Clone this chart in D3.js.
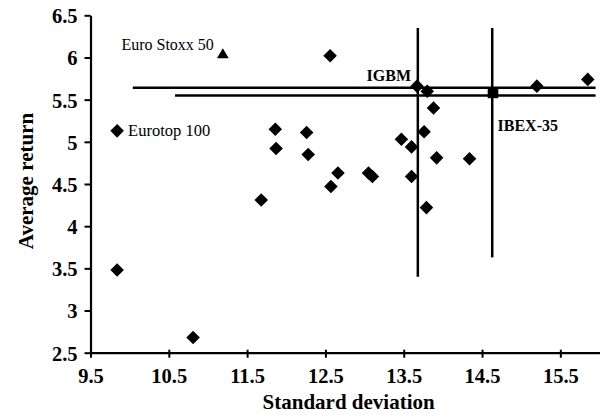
<!DOCTYPE html>
<html>
<head>
<meta charset="utf-8">
<script src="https://cdn.jsdelivr.net/npm/d3@7"></script>
<style>
  html, body { margin: 0; padding: 0; background: #fff; }
  svg { display: block; }
</style>
</head>
<body>
<svg id="chart" width="602" height="417"></svg>
<script>
// ---- Data ----
const xTicks = [9.5, 10.5, 11.5, 12.5, 13.5, 14.5, 15.5];
const yTicks = [2.5, 3, 3.5, 4, 4.5, 5, 5.5, 6, 6.5];

// Funds (diamonds): standard deviation and average return
const fundSD  = [9.84, 9.84, 10.81, 11.68, 11.86, 11.87, 12.26, 12.28, 12.56, 12.57, 12.66, 13.05, 13.10, 13.47, 13.60, 13.60, 13.76, 13.79, 13.88, 13.92, 14.34, 13.67, 13.80, 15.20, 15.85];
const fundRet = [5.13, 3.48, 2.68, 4.31, 5.15, 4.92, 5.11, 4.85, 6.02, 4.47, 4.63, 4.63, 4.59, 5.03, 4.94, 4.59, 5.12, 4.22, 5.40, 4.81, 4.80, 5.66, 5.60, 5.66, 5.74];

// Benchmarks
const stoxxSD = 11.19, stoxxRet = 6.03;   // Euro Stoxx 50 (triangle)
const ibexSD = 14.64, ibexRet = 5.58;     // IBEX-35 (square)
const eurotopIdx = 0;                     // Eurotop 100 diamond
const igbmIdx = 21;                       // IGBM diamond

// Reference lines
const hLineRet = [5.64, 5.55];
const hLineFrom = [10.04, 10.58];
const hLineTo = [15.95, 15.95];
const vLineSD = [13.68, 14.63];
const vLineTop = [6.35, 6.35];
const vLineBottom = [3.40, 3.63];

const FONT = "Liberation Serif";

// ---- Scales ----
const svg = d3.select("#chart");
const x = d3.scaleLinear().domain([9.5, 16]).range([90.5, 599.5]);
const y = d3.scaleLinear().domain([2.5, 6.5]).range([352.7, 15.3]);

function serif(sel, size, bold) {
  return sel.attr("font-family", FONT).style("font-family", FONT)
    .attr("font-size", size).style("font-size", size + "px")
    .attr("font-weight", bold ? "bold" : "normal").style("font-weight", bold ? "bold" : "normal")
    .attr("fill", "#000");
}

// ---- Axes ----
const xAxis = svg.append("g").attr("transform", `translate(0,${y(2.5)})`)
  .call(d3.axisBottom(x).tickValues(xTicks).tickSize(5).tickSizeOuter(0).tickFormat(d3.format(".1f")));
xAxis.attr("font-family", FONT);
xAxis.select(".domain").attr("stroke", "#000").attr("stroke-width", 2.2);
xAxis.selectAll(".tick line").attr("stroke", "#000").attr("stroke-width", 2).attr("y1", -3);
serif(xAxis.selectAll(".tick text").attr("y", 30).attr("dy", 0), 20.5, true);

const yAxis = svg.append("g").attr("transform", `translate(${x(9.5)},0)`)
  .call(d3.axisLeft(y).tickValues(yTicks).tickSize(6).tickSizeOuter(0).tickFormat(d => String(d)));
yAxis.attr("font-family", FONT);
yAxis.select(".domain").attr("stroke", "#000").attr("stroke-width", 2.2);
yAxis.selectAll(".tick line").attr("stroke", "#000").attr("stroke-width", 2);
serif(yAxis.selectAll(".tick text").attr("x", -13).attr("dy", "0.36em"), 20.5, true);

// ---- Axis titles ----
serif(svg.append("text")
  .attr("x", 348.6).attr("y", 409)
  .attr("text-anchor", "middle"), 21, true)
  .text("Standard deviation");

serif(svg.append("text")
  .attr("transform", "translate(33,181) rotate(-90)")
  .attr("text-anchor", "middle"), 21, true)
  .text("Average return");

// ---- Reference lines ----
svg.append("g").selectAll("line.h").data(hLineRet).join("line")
  .attr("x1", (d, i) => x(hLineFrom[i])).attr("x2", (d, i) => x(hLineTo[i]))
  .attr("y1", d => y(d)).attr("y2", d => y(d))
  .attr("stroke", "#000").attr("stroke-width", 2.5);

svg.append("g").selectAll("line.v").data(vLineSD).join("line")
  .attr("x1", d => x(d)).attr("x2", d => x(d))
  .attr("y1", (d, i) => y(vLineTop[i])).attr("y2", (d, i) => y(vLineBottom[i]))
  .attr("stroke", "#000").attr("stroke-width", 2.5);

// ---- Points ----
const diamond = d3.symbol().type(d3.symbolSquare).size(92)();
svg.append("g").selectAll("path").data(fundSD).join("path")
  .attr("d", diamond)
  .attr("transform", (d, i) => `translate(${x(d)},${y(fundRet[i])}) rotate(45)`)
  .attr("fill", "#000");

svg.append("path")
  .attr("d", d3.symbol().type(d3.symbolTriangle).size(60)())
  .attr("transform", `translate(${x(stoxxSD)},${y(stoxxRet)})`)
  .attr("fill", "#000");

svg.append("path")
  .attr("d", d3.symbol().type(d3.symbolSquare).size(112)())
  .attr("transform", `translate(${x(ibexSD)},${y(ibexRet)})`)
  .attr("fill", "#000");

// ---- Labels ----
serif(svg.append("text")
  .attr("x", x(stoxxSD) - 9).attr("y", y(stoxxRet) - 5)
  .attr("text-anchor", "end"), 16, false)
  .text("Euro Stoxx 50");

serif(svg.append("text")
  .attr("x", x(fundSD[eurotopIdx]) + 11).attr("y", y(fundRet[eurotopIdx]) + 5), 16.5, false)
  .text("Eurotop 100");

serif(svg.append("text")
  .attr("x", x(fundSD[igbmIdx]) - 6).attr("y", y(fundRet[igbmIdx]) - 5)
  .attr("text-anchor", "end"), 16, true)
  .text("IGBM");

serif(svg.append("text")
  .attr("x", x(ibexSD) + 4.5).attr("y", y(ibexRet) + 38), 16, true)
  .text("IBEX-35");
</script>
</body>
</html>
